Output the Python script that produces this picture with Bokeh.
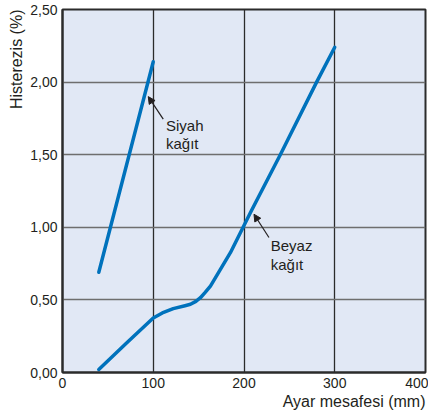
from bokeh.plotting import figure
from bokeh.models import Range1d, FixedTicker, Arrow, NormalHead, Label, Title
from bokeh.embed import file_html
from bokeh.resources import INLINE

# Data
siyah_x = [40, 100]
siyah_y = [0.69, 2.14]

beyaz_x = [40, 70, 100, 110, 122, 135, 141, 147, 152, 157, 163, 174, 185, 196, 207, 240, 280, 300]
beyaz_y = [0.02, 0.20, 0.375, 0.41, 0.44, 0.46, 0.47, 0.49, 0.515, 0.55, 0.595, 0.71, 0.825, 0.963, 1.10, 1.50, 2.00, 2.24]

x_ticks = [0, 100, 200, 300, 400]
y_ticks = [0.0, 0.5, 1.0, 1.5, 2.0, 2.5]
y_tick_labels = {0.0: "0,00", 0.5: "0,50", 1.0: "1,00", 1.5: "1,50", 2.0: "2,00", 2.5: "2,50"}

x_title = "Ayar mesafesi (mm)"
y_title = "Histerezis (%)"

# annotation anchors (data units)
siyah_label = ["Siyah", "kağıt"]
siyah_arrow = (111, 1.745, 94.5, 1.90)
siyah_text = (114, 1.70, 1.575)
beyaz_label = ["Beyaz", "kağıt"]
beyaz_arrow = (227.5, 0.93, 211, 1.09)
beyaz_text = (229.5, 0.875, 0.745)

FONT = "Liberation Sans"
TXT = "#231f20"
BLUE = "#0072bc"

p = figure(frame_width=363, frame_height=363,
           min_border_left=62, min_border_right=3, min_border_top=9, min_border_bottom=42,
           x_range=Range1d(0, 400), y_range=Range1d(0, 2.5),
           output_backend="svg", toolbar_location=None)

p.background_fill_color = "#e1e8f5"
p.border_fill_color = "white"
p.outline_line_color = "#2b2b2b"
p.outline_line_width = 2

p.xaxis.ticker = FixedTicker(ticks=x_ticks)
p.yaxis.ticker = FixedTicker(ticks=y_ticks)
p.yaxis.major_label_overrides = y_tick_labels

for ax in (p.xaxis[0], p.yaxis[0]):
    ax.axis_line_color = "#2b2b2b"
    ax.axis_line_width = 2
    ax.major_tick_line_color = None
    ax.minor_tick_line_color = None
    ax.major_tick_out = 0
    ax.major_tick_in = 0
    ax.major_label_text_font = FONT
    ax.major_label_text_font_size = "14px"
    ax.major_label_text_color = TXT

p.xaxis.major_label_standoff = 5
p.yaxis.major_label_standoff = 5

p.xgrid.grid_line_color = "#2b2b2b"
p.xgrid.grid_line_width = 1.3
p.ygrid.grid_line_color = "#6e6e6e"
p.ygrid.grid_line_width = 1.5

p.line(siyah_x, siyah_y, line_color=BLUE, line_width=3.5, line_cap="round")
p.line(beyaz_x, beyaz_y, line_color=BLUE, line_width=3.5, line_cap="round", line_join="round")

for (x0, y0, x1, y1) in (siyah_arrow, beyaz_arrow):
    p.add_layout(Arrow(x_start=x0, y_start=y0, x_end=x1, y_end=y1,
                       line_color="#231f20", line_width=1.2,
                       end=NormalHead(size=7, fill_color="#231f20", line_color="#231f20")))

for lines, (tx, ty1, ty2) in ((siyah_label, siyah_text), (beyaz_label, beyaz_text)):
    for txt, ty in zip(lines, (ty1, ty2)):
        p.add_layout(Label(x=tx, y=ty, text=txt, text_font=FONT, text_font_size="15px",
                           text_color=TXT, text_baseline="middle", text_align="left"))

p.add_layout(Title(text=x_title, align="right", text_font=FONT, text_font_size="16px",
                   text_font_style="normal", text_color=TXT, standoff=0), "below")
p.add_layout(Title(text=y_title, align="right", text_font=FONT, text_font_size="16px",
                   text_font_style="normal", text_color=TXT, standoff=5), "left")

open("out.html", "w").write(file_html(p, INLINE))
